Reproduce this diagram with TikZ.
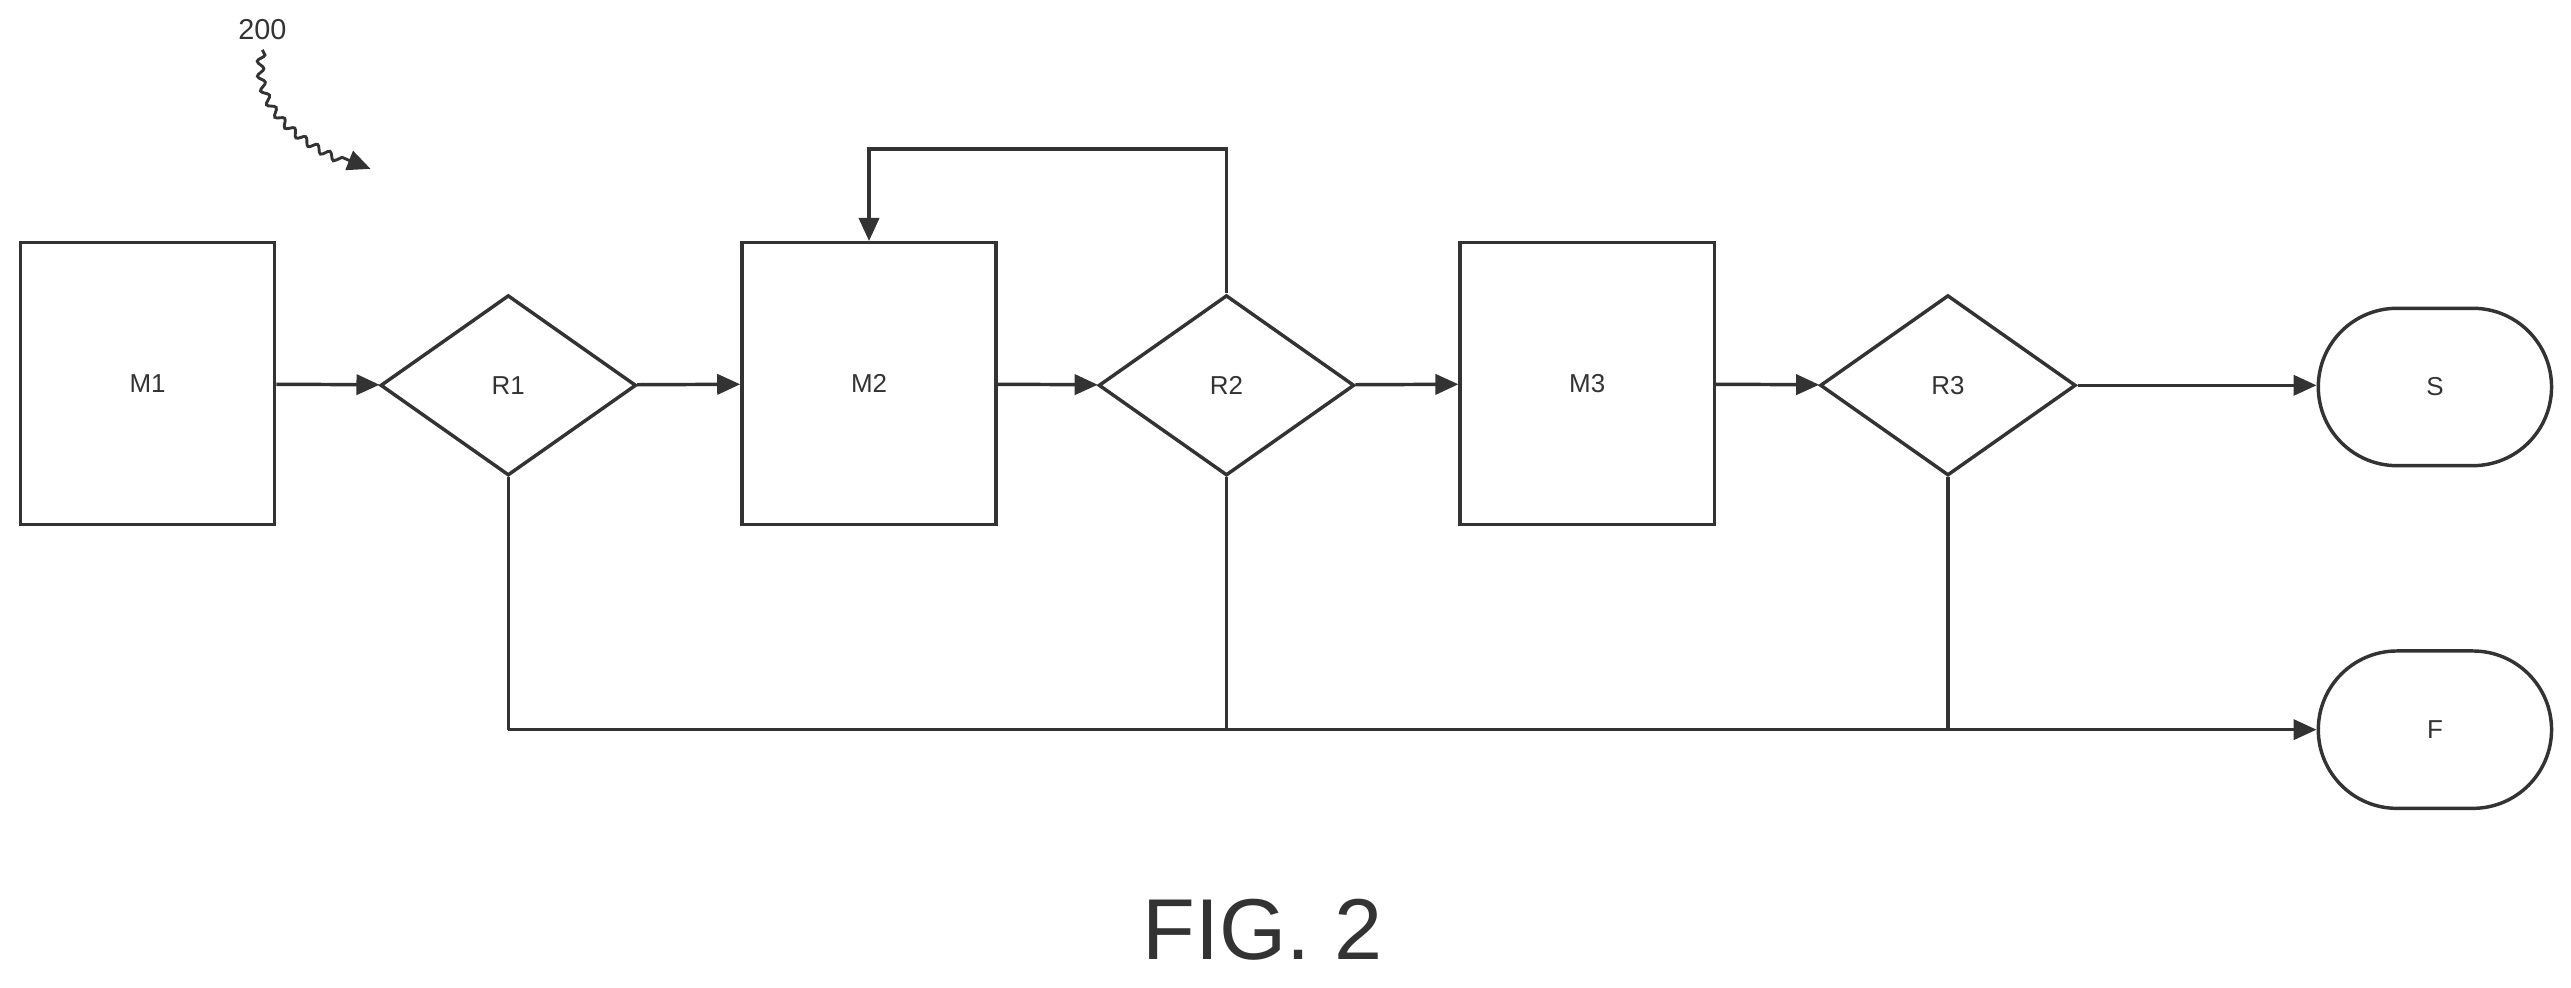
\documentclass[tikz,border=0pt]{standalone}
\usepackage{fontspec}
\setmainfont{Liberation Sans}
\usetikzlibrary{shapes.geometric,shapes.misc,arrows.meta,decorations.pathmorphing}
\tikzset{
	box/.style={draw, line width=1.2pt, minimum width=3.1cm, minimum height=3.44cm, font=\small},
	test/.style={draw, diamond, line width=1.2pt, minimum width=3.12cm, minimum height=2.2cm, inner sep=0pt, font=\small},
	term/.style={draw, rounded rectangle, line width=1.2pt, minimum width=3.08cm, minimum height=1.92cm, font=\small},
	flow/.style={line width=1.2pt, -{Triangle[length=8pt,width=7pt]}}
}
\begin{document}
\begin{tikzpicture}[x=0.02cm, y=-0.02cm, color=black!80]
	\useasboundingbox (0,0) rectangle (1568,602);
	% Stages
	\node[box]  (m1) at (90,234)  {M1};
	\node[test] (r1) at (310,235) {R1};
	\node[box]  (m2) at (530,234) {M2};
	\node[test] (r2) at (748,235) {R2};
	\node[box]  (m3) at (968,234) {M3};
	\node[test] (r3) at (1188,235) {R3};
	\node[term] (s)  at (1485,236) {S};
	\node[term] (f)  at (1485,445) {F};
	% Main flow
	\draw[flow] (m1) -- (r1);
	\draw[flow] (r1) -- (m2);
	\draw[flow] (m2) -- (r2);
	\draw[flow] (r2) -- (m3);
	\draw[flow] (m3) -- (r3);
	\draw[flow] (r3) -- (s.west |- r3);
	% Feedback
	\draw[flow] (r2.north) -- ++(0,-88) -| (m2.north);
	% Fail path
	\coordinate (j1) at (r1.south |- f);
	\coordinate (j2) at (r2.south |- f);
	\coordinate (j3) at (r3.south |- f);
	\draw[line width=1.2pt] (r1.south) -- (j1);
	\draw[line width=1.2pt] (r2.south) -- (j2);
	\draw[line width=1.2pt] (r3.south) -- (j3);
	\draw[flow] (j1) -- (f.west);
	% Labels
	\node (ref) at (160,18) {200};
	\coordinate (refend) at (226,103);
	\draw[line width=1pt, decorate, decoration={snake, amplitude=1.2pt, segment length=5pt, post length=8pt}, -{Triangle[length=8pt,width=7pt]}]
		(ref.south) to[out=-100, in=160] (refend);
	\node[font=\fontsize{30}{32}\selectfont] (fig) at (770,567) {FIG. 2};
\end{tikzpicture}
\end{document}
